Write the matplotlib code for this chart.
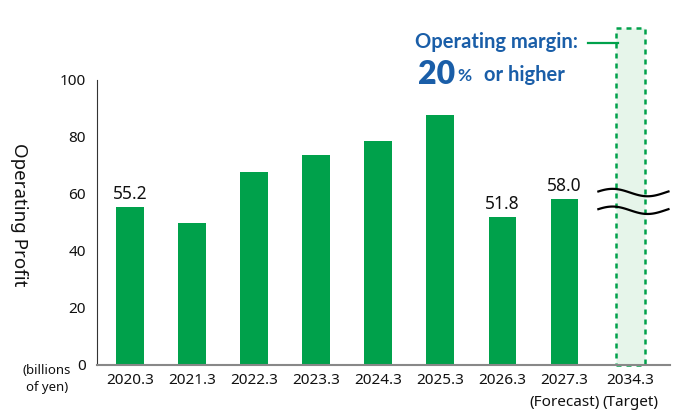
import numpy as np
import matplotlib.pyplot as plt

plt.rcParams['font.family'] = ['Noto Sans', 'DejaVu Sans']

years = ['2020.3', '2021.3', '2022.3', '2023.3', '2024.3', '2025.3', '2026.3', '2027.3\n(Forecast)', '2034.3\n(Target)']
profit = [55.2, 49.9, 67.5, 73.7, 78.5, 87.6, 51.8, 58.0]
labeled = {0: '55.2', 6: '51.8', 7: '58.0'}
target_top = 118

green = '#00A14B'
blue = '#1A5EA8'
ann_font = ['Lato', 'DejaVu Sans']

fig = plt.figure(figsize=(6.9, 4.2), dpi=100)
ax = fig.add_axes([0.1406, 0.131, 0.830, 0.802])

x = np.arange(len(profit))
ax.bar(x, profit, width=0.44, color=green, zorder=2)
for i, s in labeled.items():
    ax.text(x[i], profit[i] + 1.5, s, ha='center', va='bottom', fontsize=12.5, color='#111111')

# target bar (dashed, light fill)
tx = len(profit) + 0.07
ax.bar(tx, target_top, width=0.46, color='#E6F5EA', edgecolor=green, linestyle=(0, (2, 2)),
       linewidth=1.8, zorder=2, clip_on=False)

# break marks
t = np.linspace(0, 1, 100)
wx = 7.55 + t * 1.13
for y0 in (60.4, 54.2):
    ax.plot(wx, y0 + 1.3 * np.sin(2 * np.pi * t + 0.3), color='black', lw=1.6, zorder=4, clip_on=False)

ax.set_xlim(-0.53, 8.7)
ax.set_ylim(0, target_top)
ax.set_yticks([0, 20, 40, 60, 80, 100])
ax.set_xticks(list(x) + [tx])
ax.set_xticklabels(years, fontsize=11, color='#111111', linespacing=1.6)
ax.tick_params(axis='both', length=0, labelsize=11, colors='#111111')
ax.tick_params(axis='y', pad=8)
ax.tick_params(axis='x', pad=6)
for s in ['top', 'right']:
    ax.spines[s].set_visible(False)
ax.spines['left'].set_bounds(0, 100)
ax.spines['left'].set_color('#333333')
ax.spines['bottom'].set_color('#888888')
ax.spines['bottom'].set_linewidth(1.5)

fig.text(0.027, 0.49, 'Operating Profit', rotation=270, ha='center', va='center', fontsize=13.5, color='#111111')
fig.text(0.068, 0.098, '(billions\nof yen)', ha='center', va='center', fontsize=9.5, color='#111111',
         linespacing=1.4)

fig.text(0.838, 0.899, 'Operating margin:', ha='right', va='center', fontsize=14.5, color=blue,
         fontweight='bold', family=ann_font)
fig.text(0.606, 0.823, '20', ha='left', va='center', fontsize=23, color=blue, fontweight='heavy', family=ann_font)
fig.text(0.663, 0.818, '%', ha='left', va='center', fontsize=12.5, color=blue, fontweight='bold', family=ann_font)
fig.text(0.702, 0.822, 'or higher', ha='left', va='center', fontsize=14.5, color=blue, fontweight='bold',
         family=ann_font)
fig.add_artist(plt.Line2D([0.852, 0.895], [0.898, 0.898], color=green, lw=1.6))

fig.savefig('out.png', dpi=100)
